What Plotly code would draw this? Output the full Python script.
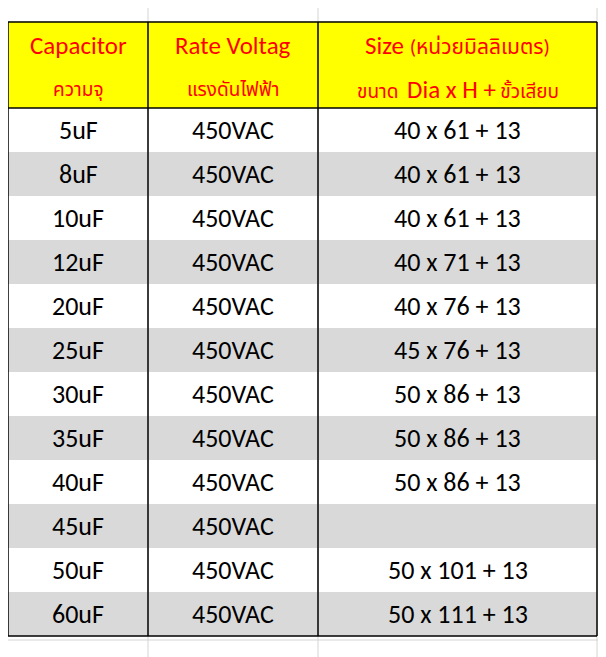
import plotly.graph_objects as go

caps = ["5uF","8uF","10uF","12uF","20uF","25uF","30uF","35uF","40uF","45uF","50uF","60uF"]
volts = ["450VAC"]*12
sizes = ["40 x 61 + 13","40 x 61 + 13","40 x 61 + 13","40 x 71 + 13","40 x 76 + 13","45 x 76 + 13",
         "50 x 86 + 13","50 x 86 + 13","50 x 86 + 13","","50 x 101 + 13","50 x 111 + 13"]
head1 = ["Capacitor","Rate Voltag","Size <span style='font-size:21px'>(หน่วยมิลลิเมตร)</span>"]
head2 = ["ความจุ","แรงดันไฟฟ้า","ขนาด  <span style='font-size:25px'>Dia x H +</span> ขั้วเสียบ"]

colx = [8,148,318,597]
top, hb, rh = 22, 108, 44
W, H = 606, 657
font = "Calibri, Carlito, Liberation Sans, Noto Sans Thai, sans-serif"

fig = go.Figure()
shapes = []
for x in [148,318,597]:
    shapes.append(dict(type="line",x0=x,x1=x,y0=0,y1=H+20,line=dict(color="#d4d4d4",width=1),layer="below"))
for y in [0, 22, 640]:
    shapes.append(dict(type="line",x0=0,x1=W+20,y0=y,y1=y,line=dict(color="#d4d4d4",width=1),layer="below"))
shapes.append(dict(type="rect",x0=colx[0],x1=colx[-1],y0=top,y1=hb,fillcolor="#ffff00",line=dict(width=0)))
for i in range(len(caps)):
    y0 = hb+i*rh
    if i % 2 == 1:
        shapes.append(dict(type="rect",x0=colx[0],x1=colx[-1],y0=y0,y1=y0+rh,fillcolor="#d9d9d9",line=dict(width=0)))
bottom = hb+len(caps)*rh
for x in colx:
    shapes.append(dict(type="line",x0=x,x1=x,y0=top,y1=bottom,line=dict(color="black",width=1.5)))
for y in [top,hb,bottom]:
    shapes.append(dict(type="line",x0=colx[0],x1=colx[-1],y0=y,y1=y,line=dict(color="black",width=1.5)))

ann = []
for j in range(3):
    cx = (colx[j]+colx[j+1])/2
    ann.append(dict(x=cx,y=45,text=head1[j],showarrow=False,font=dict(size=25,color="#ff0000",family=font)))
    ann.append(dict(x=cx,y=89,text=head2[j],showarrow=False,font=dict(size=19,color="#ff0000",family=font)))
for i in range(len(caps)):
    yc = hb+i*rh+rh/2
    for j,v in enumerate([caps[i],volts[i],sizes[i]]):
        if v:
            ann.append(dict(x=(colx[j]+colx[j+1])/2,y=yc,text=v,showarrow=False,font=dict(size=26,color="black",family=font)))

fig.update_layout(width=W,height=H,margin=dict(l=0,r=0,t=0,b=0),plot_bgcolor="white",paper_bgcolor="white",
                  shapes=shapes,annotations=ann,
                  xaxis=dict(range=[8,W+8],visible=False,fixedrange=True),
                  yaxis=dict(range=[H+8,8],visible=False,fixedrange=True))
fig.write_html("out.html")
